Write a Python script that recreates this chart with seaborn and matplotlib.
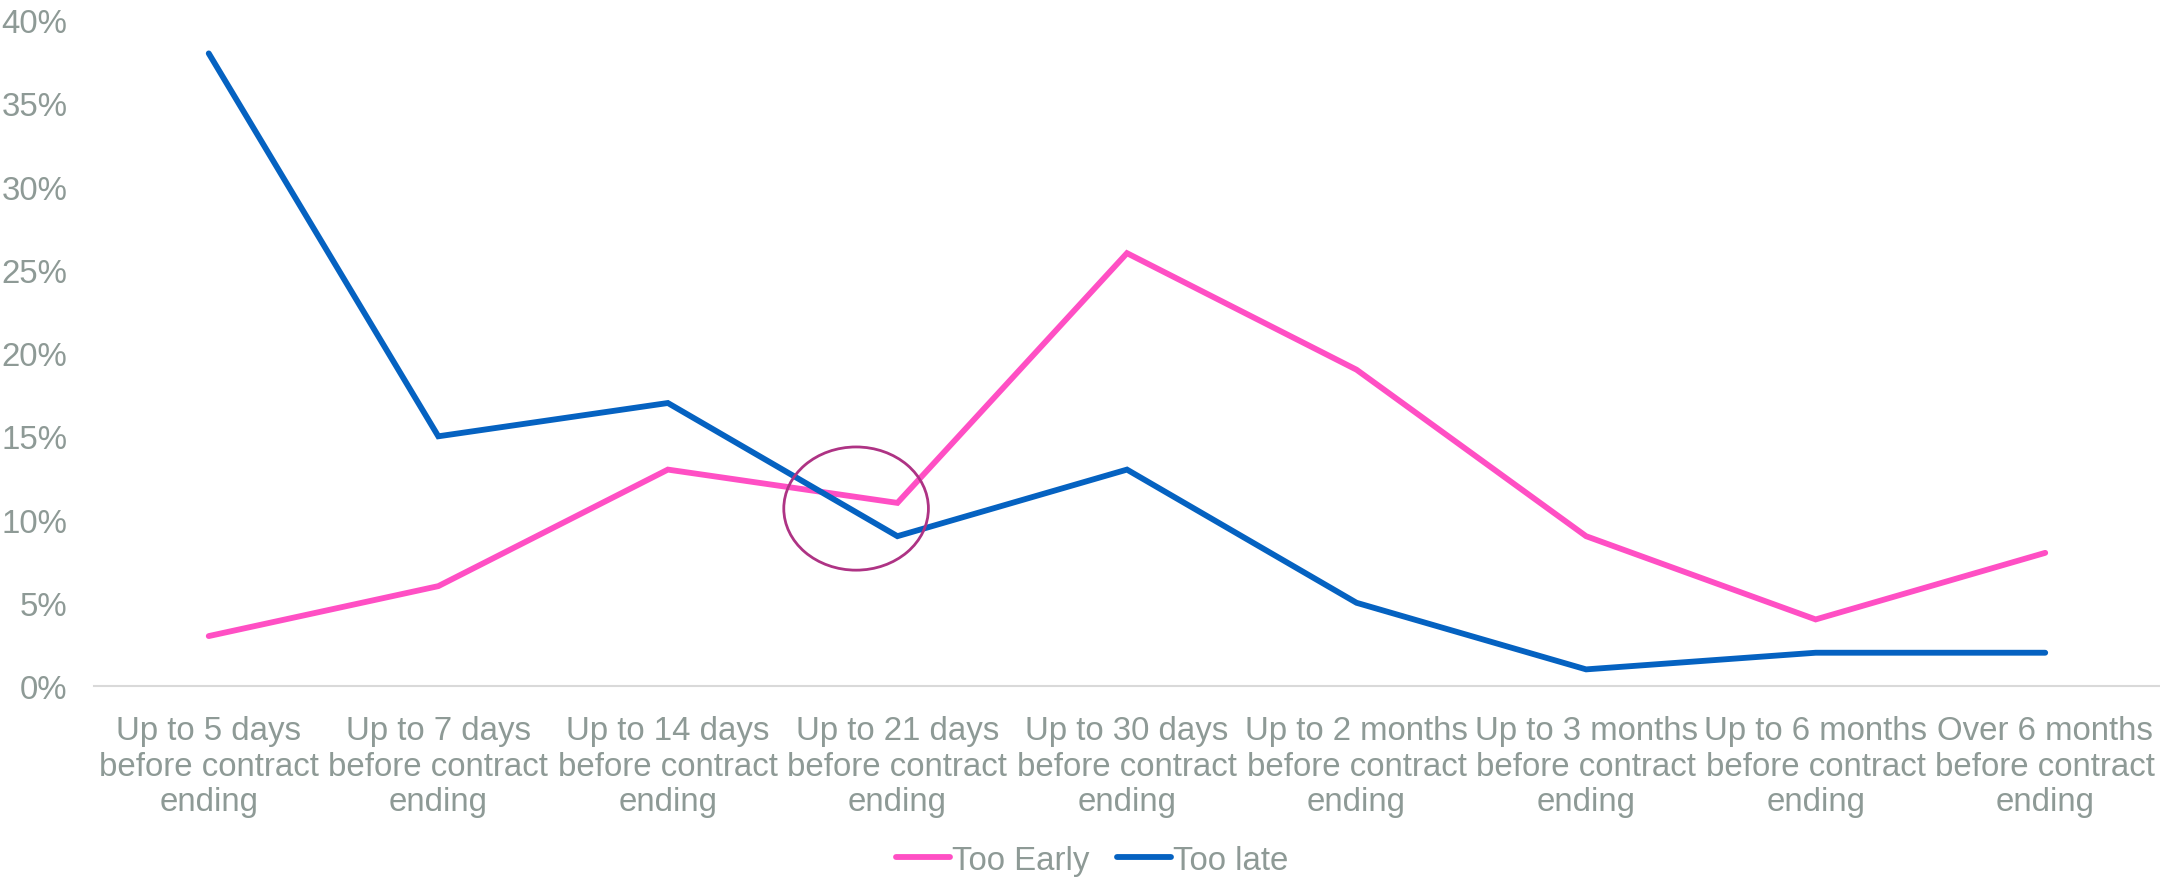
import matplotlib
matplotlib.use("Agg")
import matplotlib.pyplot as plt
from matplotlib.patches import Ellipse
from matplotlib.ticker import FuncFormatter
import seaborn as sns
import pandas as pd

categories = [
    "Up to 5 days\nbefore contract\nending",
    "Up to 7 days\nbefore contract\nending",
    "Up to 14 days\nbefore contract\nending",
    "Up to 21 days\nbefore contract\nending",
    "Up to 30 days\nbefore contract\nending",
    "Up to 2 months\nbefore contract\nending",
    "Up to 3 months\nbefore contract\nending",
    "Up to 6 months\nbefore contract\nending",
    "Over 6 months\nbefore contract\nending",
]
too_early = [3, 6, 13, 11, 26, 19, 9, 4, 8]
too_late = [38, 15, 17, 9, 13, 5, 1, 2, 2]
series_names = ["Too Early", "Too late"]
y_ticks = [0, 5, 10, 15, 20, 25, 30, 35, 40]

colors = {"Too Early": "#FF4FC4", "Too late": "#0562C1"}
text_color = "#8E9A96"
fs = 23.8

df = pd.DataFrame({
    "pos": list(range(len(categories))) * 2,
    "value": too_early + too_late,
    "series": [series_names[0]] * len(categories) + [series_names[1]] * len(categories),
})

sns.set_style("white")
plt.rcParams["font.family"] = ["Liberation Sans", "DejaVu Sans"]

fig = plt.figure(figsize=(21.6, 8.79), dpi=100)
ax = fig.add_axes([0.0435, 0.2184, 0.9565, 0.7576])

sns.lineplot(data=df, x="pos", y="value", hue="series", palette=colors,
             linewidth=4.2, ax=ax, legend=False,
             solid_capstyle="round", solid_joinstyle="miter")

# highlight where the two series cross
ax.add_patch(Ellipse((2.82, 10.66), width=0.63, height=7.4, fill=False,
                     edgecolor="#AE3384", linewidth=2.0, zorder=5))

ax.set_xlim(-0.5, len(categories) - 0.5)
ax.set_ylim(0, 40)
ax.set_xticks(range(len(categories)))
ax.set_xticklabels(categories, fontsize=fs, color=text_color, linespacing=1.18)
ax.set_yticks(y_ticks)
ax.yaxis.set_major_formatter(FuncFormatter(lambda v, p: f"{int(v)}%"))
ax.tick_params(axis="y", labelsize=fs, labelcolor=text_color, length=0, pad=19)
ax.tick_params(axis="x", length=0, pad=21)
ax.set_xlabel("")
ax.set_ylabel("")

for side in ["top", "right", "left"]:
    ax.spines[side].set_visible(False)
ax.spines["bottom"].set_color("#D9D9D9")
ax.spines["bottom"].set_linewidth(1.5)
ax.grid(False)

handles = [plt.Line2D([], [], color=colors[n], linewidth=4.2, solid_capstyle="round")
           for n in series_names]
fig.legend(handles, series_names, loc="center", bbox_to_anchor=(0.5057, 0.02),
           ncol=2, frameon=False, fontsize=fs, labelcolor=text_color,
           handlelength=1.62, handletextpad=0.06, columnspacing=0.85)

fig.savefig("out.png", dpi=100, facecolor="white")
